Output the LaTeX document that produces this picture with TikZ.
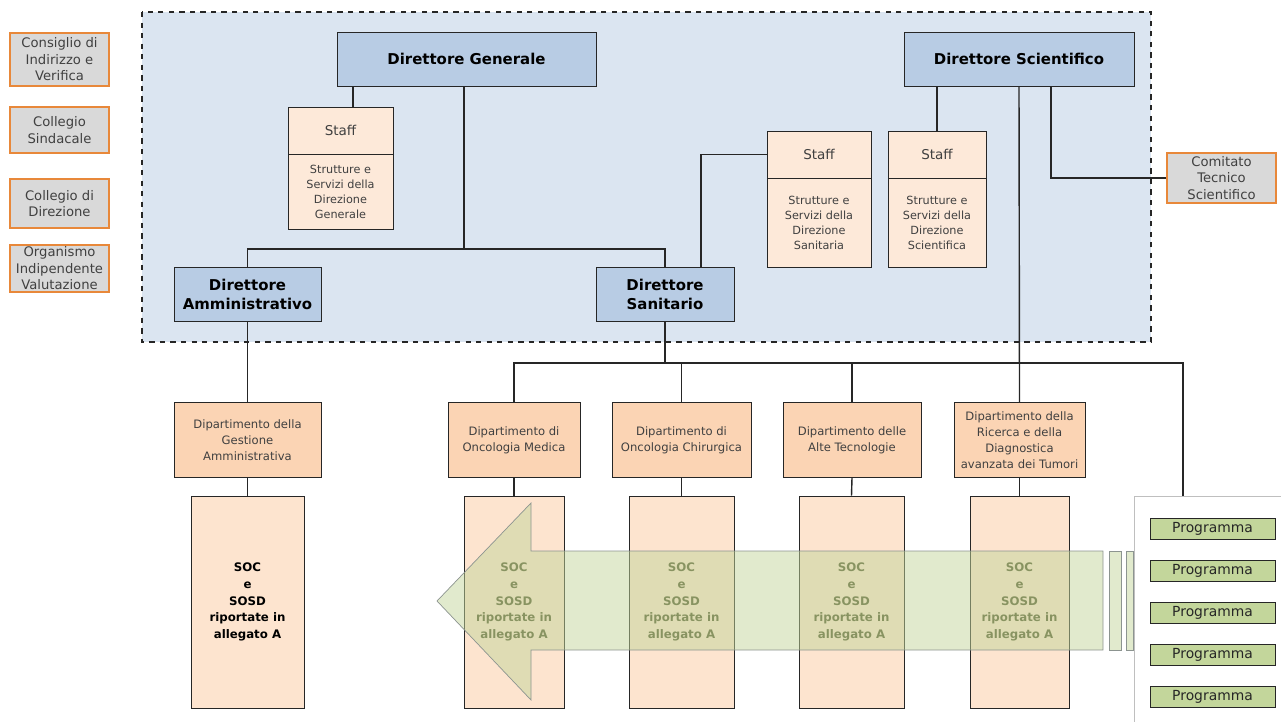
\documentclass[tikz,border=0pt]{standalone}
\usepackage{fontspec}
\setmainfont{DejaVu Sans}
\definecolor{bgblue}{HTML}{DBE5F1}
\definecolor{dirblue}{HTML}{B8CCE4}
\definecolor{staffpeach}{HTML}{FDE9D9}
\definecolor{deptpeach}{HTML}{FBD4B4}
\definecolor{socpeach}{HTML}{FDE4CF}
\definecolor{orggray}{HTML}{D9D9D9}
\definecolor{orgorange}{HTML}{E8883A}
\definecolor{proggreen}{HTML}{C3D69B}
\definecolor{linegray}{HTML}{262626}
\definecolor{txtgray}{HTML}{404040}
\definecolor{socolive}{HTML}{4E5128}
\definecolor{arrowgray}{HTML}{8C9490}
\definecolor{boxgray}{HTML}{BFBFBF}

\begin{document}
\begin{tikzpicture}[x=0.02cm,y=-0.02cm,
every node/.style={inner sep=1pt, align=center, text=txtgray},
dir/.style={draw=linegray, fill=dirblue, text=black, minimum height=1.08cm,
    font=\bfseries\fontsize{8.5}{10.8}\selectfont},
staffhead/.style={draw=linegray, fill=staffpeach, minimum height=0.94cm,
    font=\fontsize{7.7}{9}\selectfont},
staffbody/.style={draw=linegray, fill=staffpeach, anchor=north,
    font=\fontsize{6.4}{8.5}\selectfont},
organ/.style={draw=orgorange, line width=1pt, fill=orggray, minimum width=1.98cm,
    font=\fontsize{7.5}{9.4}\selectfont},
dept/.style={draw=linegray, fill=deptpeach, minimum height=1.5cm,
    font=\fontsize{6.6}{9}\selectfont},
soc/.style={draw=linegray, fill=socpeach, minimum height=4.24cm,
    font=\bfseries\fontsize{6.7}{9.6}\selectfont},
prog/.style={draw=linegray, fill=proggreen, minimum width=2.5cm, minimum height=0.42cm,
    text=black!85, font=\fontsize{7.9}{9}\selectfont},
conn/.style={draw=linegray, line width=0.8pt},
band/.style={draw=arrowgray, fill=proggreen, fill opacity=0.5}
]
\useasboundingbox (0,0) rectangle (1281,722);

\draw[dashed, line width=1.1pt, draw=black!85, fill=bgblue] (142,12) rectangle (1151,342);

\node[organ, minimum height=1.06cm] (civ) at (59.5,59.5) {Consiglio di\\Indirizzo e\\Verifica};
\node[organ, minimum height=0.92cm] (cs) at (59.5,130) {Collegio\\Sindacale};
\node[organ, minimum height=0.98cm] (cd) at (59.5,203.5) {Collegio di\\Direzione};
\node[organ, minimum height=0.78cm] (oiv) at (59.5,268.5) {Organismo\\Indipendente\\Valutazione};
\node[organ, minimum width=2.18cm, minimum height=1cm] (cts) at (1221.5,178) {Comitato\\Tecnico\\Scientifico};

\node[dir, minimum width=5.18cm] (dg) at (466.5,59) {Direttore Generale};
\node[dir, minimum width=4.6cm] (dsc) at (1019,59) {Direttore Scientifico};
\node[dir, minimum width=2.94cm] (da) at (247.5,294) {Direttore\\Amministrativo};
\node[dir, minimum width=2.76cm] (dsan) at (665,294) {Direttore\\Sanitario};

\node[staffhead, minimum width=2.1cm] (sthdg) at (340.5,130.5) {Staff};
\node[staffbody, minimum width=2.1cm, minimum height=1.5cm] (stbdg) at (sthdg.south) {Strutture e\\Servizi della\\Direzione\\Generale};
\node[staffhead, minimum width=2.08cm] (sthsan) at (819,154.5) {Staff};
\node[staffbody, minimum width=2.08cm, minimum height=1.78cm] (stbsan) at (sthsan.south) {Strutture e\\Servizi della\\Direzione\\Sanitaria};
\node[staffhead, minimum width=1.96cm] (sthsci) at (937,154.5) {Staff};
\node[staffbody, minimum width=1.96cm, minimum height=1.78cm] (stbsci) at (sthsci.south) {Strutture e\\Servizi della\\Direzione\\Scientifica};

\node[dept, minimum width=2.94cm] (dga) at (247.5,440) {Dipartimento della\\Gestione\\Amministrativa};
\node[dept, minimum width=2.64cm] (dmed) at (514,440) {Dipartimento di\\Oncologia Medica};
\node[dept, minimum width=2.78cm] (dchi) at (681.5,440) {Dipartimento di\\Oncologia Chirurgica};
\node[dept, minimum width=2.76cm] (dalt) at (852,440) {Dipartimento delle\\Alte Tecnologie};
\node[dept, minimum width=2.62cm] (dric) at (1019.5,440) {Dipartimento della\\Ricerca e della\\Diagnostica\\avanzata dei Tumori};

\node[soc, minimum width=2.26cm, text=black] (sga) at (247.5,602) {SOC\\e\\SOSD\\riportate in\\allegato A};
\foreach \n/\x/\w in {smed/514/2.0,schi/681.5/2.1,salt/851.5/2.1,sric/1019.5/1.98}
    \node[soc, minimum width=\w cm, text=socolive] (\n) at (\x,602) {SOC\\e\\SOSD\\riportate in\\allegato A};

\node[draw=boxgray, fill=white, anchor=north west, minimum width=3.5cm, minimum height=5cm] (pbox) at (1134,496) {};
\foreach \i in {0,...,4}
    \node[prog] (p\i) at (1212.5,{528.5+42*\i}) {Programma};

\coordinate (k1) at (464,249);
\coordinate (k2) at (701,0);
\coordinate (k3) at (1051,0);
\coordinate (k4) at (353,0);
\coordinate (bus) at (1183,363);

\draw[conn] (dg.south -| k4) -- (sthdg.north -| k4);
\draw[conn] (dg.south -| k1) -- (k1);
\draw[conn] (da.north) |- (k1) -| (dsan.north);
\draw[conn] (dsan.north -| k2) |- (sthsan.west);
\draw[conn] (dsc.south -| sthsci.north) -- (sthsci.north);
\draw[conn] (dsc.south -| k3) |- (cts.west);
\draw[conn] (dsc.south) -- (dric.north);
\draw[conn] (da.south) -- (dga.north);
\draw[conn] (dsan.south) -- (dsan.south |- bus);
\draw[conn] (dmed.north) |- (bus) -- (pbox.north -| bus);
\foreach \d in {dchi,dalt}
    \draw[conn] (\d.north) -- (\d.north |- bus);
\foreach \i/\j in {dga/sga,dmed/smed,dchi/schi,dalt/salt,dric/sric}
    \draw[conn] (\i.south) -- (\j.north);

\draw[band] (437,601) -- (531,503) -- (531,551) -- (1103,551) -- (1103,650)
    -- (531,650) -- (531,700) -- cycle;
\draw[band] (1109,551) rectangle (1121,650);
\draw[band] (1126,551) rectangle (1133,650);
\end{tikzpicture}
\end{document}
